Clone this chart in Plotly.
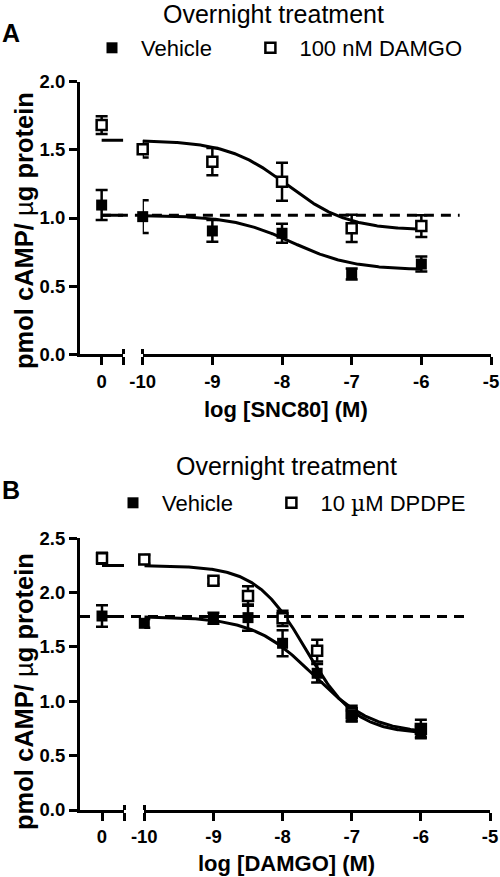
import numpy as np
import plotly.graph_objects as go

W, H = 500, 877
FONT = "Arial, 'Liberation Sans', Helvetica, sans-serif"
NB = "\u00a0"

# ---------------- Panel A data (SNC80) ----------------
A_x_log = [-10, -9, -8, -7, -6]
A_veh_zero = [1.095]
A_veh_zero_err = [0.11]
A_veh = [1.01, 0.905, 0.888, 0.589, 0.662]
A_veh_err = [0.12, 0.08, 0.07, 0.04, 0.055]
A_dam_zero = [1.682]
A_dam_zero_err = [0.065]
A_dam = [1.504, 1.413, 1.266, 0.924, 0.941]
A_dam_err = [0.06, 0.10, 0.14, 0.10, 0.08]
# fitted sigmoid parameters: top, bottom, logEC50, Hill slope
A_veh_fit = [1.02, 0.62, -7.85, 1.0]
A_dam_fit = [1.57, 0.91, -7.92, 1.0]
A_dash_x = [-10.6, -5.45]

# ---------------- Panel B data (DAMGO) ----------------
B_x_log = [-10, -9, -8.5, -8, -7.5, -7, -6]
B_veh_zero = [1.785]
B_veh_zero_err = [0.10]
B_veh = [1.718, 1.764, 1.77, 1.534, 1.258, 0.865, 0.72]
B_veh_err = [0.04, 0.05, 0.12, 0.12, 0.085, 0.05, 0.05]
B_dp_zero = [2.316]
B_dp_zero_err = [0.05]
B_dp = [2.306, 2.109, 1.969, 1.764, 1.466, 0.89, 0.745]
B_dp_err = [0.04, 0.03, 0.09, 0.07, 0.10, 0.07, 0.085]
B_veh_fit = [1.78, 0.70, -7.55, 1.0]
B_dp_fit = [2.25, 0.70, -7.66, 1.2]
B_dash_x = [-10.93, -5.36]

X2_TICKS = [-10, -9, -8, -7, -6, -5]
X2_LABELS = ["-10", "-9", "-8", "-7", "-6", "-5"]


def logistic(x, p):
    top, bottom, ec, hill = p
    x = np.asarray(x, dtype=float)
    return bottom + (top - bottom) / (1 + 10 ** ((x - ec) * hill))


def px_x(p):
    return p / W


def px_y(p):
    return 1 - p / H


fig = go.Figure()
layout = {}

panels = [
    dict(name="A", xs=("x", "x2", "x3"), ys="y", keys=("xaxis", "xaxis2", "xaxis3", "yaxis"),
         legend="legend",
         ytop=81.7, ybot=354.3, yrange=[0, 2.0], yticks=[0, 0.5, 1.0, 1.5, 2.0],
         left=80, seg1_end=123.3, seg2_start=142.7, seg2_end=491,
         xlog=A_x_log,
         s1=("Vehicle" + NB * 4, A_veh_zero, A_veh_zero_err, A_veh, A_veh_err, A_veh_fit, "black"),
         s2=("100 nM DAMGO", A_dam_zero, A_dam_zero_err, A_dam, A_dam_err, A_dam_fit, "white"),
         dash=A_dash_x,
         xtitle="<b>log [SNC80] (M)</b>", xtitle_y=410,
         title_x=273, title_y=14, letter_y=33, ytitle_y=231,
         leg_x=83, leg_y=48),
    dict(name="B", xs=("x4", "x5", "x6"), ys="y2", keys=("xaxis4", "xaxis5", "xaxis6", "yaxis2"),
         legend="legend2",
         ytop=538.3, ybot=810, yrange=[0, 2.5], yticks=[0, 0.5, 1.0, 1.5, 2.0, 2.5],
         left=80, seg1_end=124, seg2_start=144.3, seg2_end=490,
         xlog=B_x_log,
         s1=("Vehicle" + NB * 4, B_veh_zero, B_veh_zero_err, B_veh, B_veh_err, B_veh_fit, "black"),
         s2=("10 <span style='font-family:DejaVu Serif'>µ</span>M DPDPE", B_dp_zero, B_dp_zero_err, B_dp, B_dp_err, B_dp_fit, "white"),
         dash=B_dash_x,
         xtitle="<b>log [DAMGO] (M)</b>", xtitle_y=863,
         title_x=286, title_y=466, letter_y=490, ytitle_y=692,
         leg_x=104, leg_y=503),
]

annotations = []

for P in panels:
    x1, x2, x3 = P["xs"]
    y = P["ys"]
    k1, k2, k3, ky = P["keys"]
    ppu = (P["seg2_end"] - P["seg2_start"]) / 5.0
    full_min = -10 - (P["seg2_start"] - P["left"]) / ppu
    seg1_end_full = -10 - (P["seg2_start"] - P["seg1_end"]) / ppu
    ydom = [px_y(P["ybot"]), px_y(P["ytop"])]

    common = dict(showgrid=False, zeroline=False, color="black", linecolor="black",
                  tickcolor="black", linewidth=3, tickwidth=3, ticklen=8, ticks="outside",
                  automargin=False,
                  tickfont=dict(family=FONT, size=18.5, color="black", weight="bold"))

    layout[k1] = dict(common, domain=[px_x(P["left"]), px_x(P["seg1_end"])], range=[-1, 1],
                      anchor=y, showline=True, tickmode="array", tickvals=[0, 1],
                      ticktext=["0", ""], fixedrange=True)
    layout[k2] = dict(common, domain=[px_x(P["seg2_start"]), px_x(P["seg2_end"])],
                      range=[-10, -5], anchor=y, showline=True, tickmode="array",
                      tickvals=X2_TICKS, ticktext=X2_LABELS)
    layout[k3] = dict(showgrid=False, zeroline=False, showline=False, showticklabels=False,
                      automargin=False,
                      domain=[px_x(P["left"]), px_x(P["seg2_end"])], range=[full_min, -5],
                      anchor=y, ticks="inside", ticklen=5, tickwidth=3, tickcolor="black",
                      tickmode="array", tickvals=[seg1_end_full, -10, -5])
    layout[ky] = dict(common, domain=ydom, range=P["yrange"], anchor=x1, showline=True,
                      tickmode="array", tickvals=P["yticks"], tickformat=".1f")

    # curves in segment 2 and the short top pieces in segment 1
    xc = np.linspace(-10, -6, 300)
    for (label, z, ze, vals, errs, fit, fill) in (P["s1"], P["s2"]):
        fig.add_trace(go.Scatter(x=xc, y=logistic(xc, fit), xaxis=x2, yaxis=y, mode="lines",
                                 line=dict(color="black", width=3), showlegend=False,
                                 hoverinfo="skip"))
        fig.add_trace(go.Scatter(x=[0, 1], y=[fit[0], fit[0]], xaxis=x1, yaxis=y, mode="lines",
                                 line=dict(color="black", width=3), showlegend=False,
                                 hoverinfo="skip"))
    # dashed line at vehicle top
    vt = P["s1"][5][0]
    fig.add_trace(go.Scatter(x=P["dash"], y=[vt, vt], xaxis=x3, yaxis=y, mode="lines",
                             line=dict(color="black", width=3, dash="10px,7px"),
                             showlegend=False, hoverinfo="skip"))

    for (label, z, ze, vals, errs, fit, fill) in (P["s2"], P["s1"]):
        mk = dict(symbol="square", size=11 if fill == "black" else 10, color=fill,
                  line=dict(color="black", width=0 if fill == "black" else 2.5))
        eb = dict(type="data", symmetric=True, thickness=2.5, width=6, color="black")
        fig.add_trace(go.Scatter(x=[0] * len(z), y=z, xaxis=x1, yaxis=y, mode="markers",
                                 marker=mk, error_y=dict(eb, array=ze), cliponaxis=False,
                                 showlegend=False))
        fig.add_trace(go.Scatter(x=P["xlog"], y=vals, xaxis=x2, yaxis=y, mode="markers",
                                 marker=mk, error_y=dict(eb, array=errs), cliponaxis=False,
                                 name=label, legend=P["legend"], showlegend=True))

    annotations += [
        dict(text="Overnight treatment", x=px_x(P["title_x"]), y=px_y(P["title_y"]),
             xref="paper", yref="paper", showarrow=False, xanchor="center", yanchor="middle",
             font=dict(family=FONT, size=25, color="black")),
        dict(text="<b>%s</b>" % P["name"], x=px_x(11), y=px_y(P["letter_y"]),
             xref="paper", yref="paper", showarrow=False, xanchor="center", yanchor="middle",
             font=dict(family=FONT, size=25, color="black")),
        dict(text="<b>pmol cAMP/ </b>µ<b>g protein</b>", x=px_x(24), y=px_y(P["ytitle_y"]),
             xref="paper", yref="paper", showarrow=False, xanchor="center", yanchor="middle",
             textangle=-90, font=dict(family=FONT, size=25.5, color="black")),
        dict(text=P["xtitle"], x=px_x(286), y=px_y(P["xtitle_y"]),
             xref="paper", yref="paper", showarrow=False, xanchor="center", yanchor="middle",
             font=dict(family=FONT, size=22, color="black")),
    ]
    layout[P["legend"]] = dict(orientation="h", x=px_x(P["leg_x"]), y=px_y(P["leg_y"]),
                               xanchor="left", yanchor="middle", bgcolor="rgba(0,0,0,0)",
                               font=dict(family=FONT, size=22, color="black"),
                               itemwidth=48, traceorder="reversed")

fig.update_layout(**layout)
fig.update_layout(width=W, height=H, margin=dict(l=0, r=0, t=0, b=0, autoexpand=False),
                  autosize=False,
                  paper_bgcolor="white", plot_bgcolor="rgba(0,0,0,0)", annotations=annotations,
                  font=dict(family=FONT, color="black"))
fig.write_html("out.html", config={"displayModeBar": False},
               post_script="document.body.style.margin='0';document.body.style.padding='0';"
                           "document.body.style.overflow='hidden';")
